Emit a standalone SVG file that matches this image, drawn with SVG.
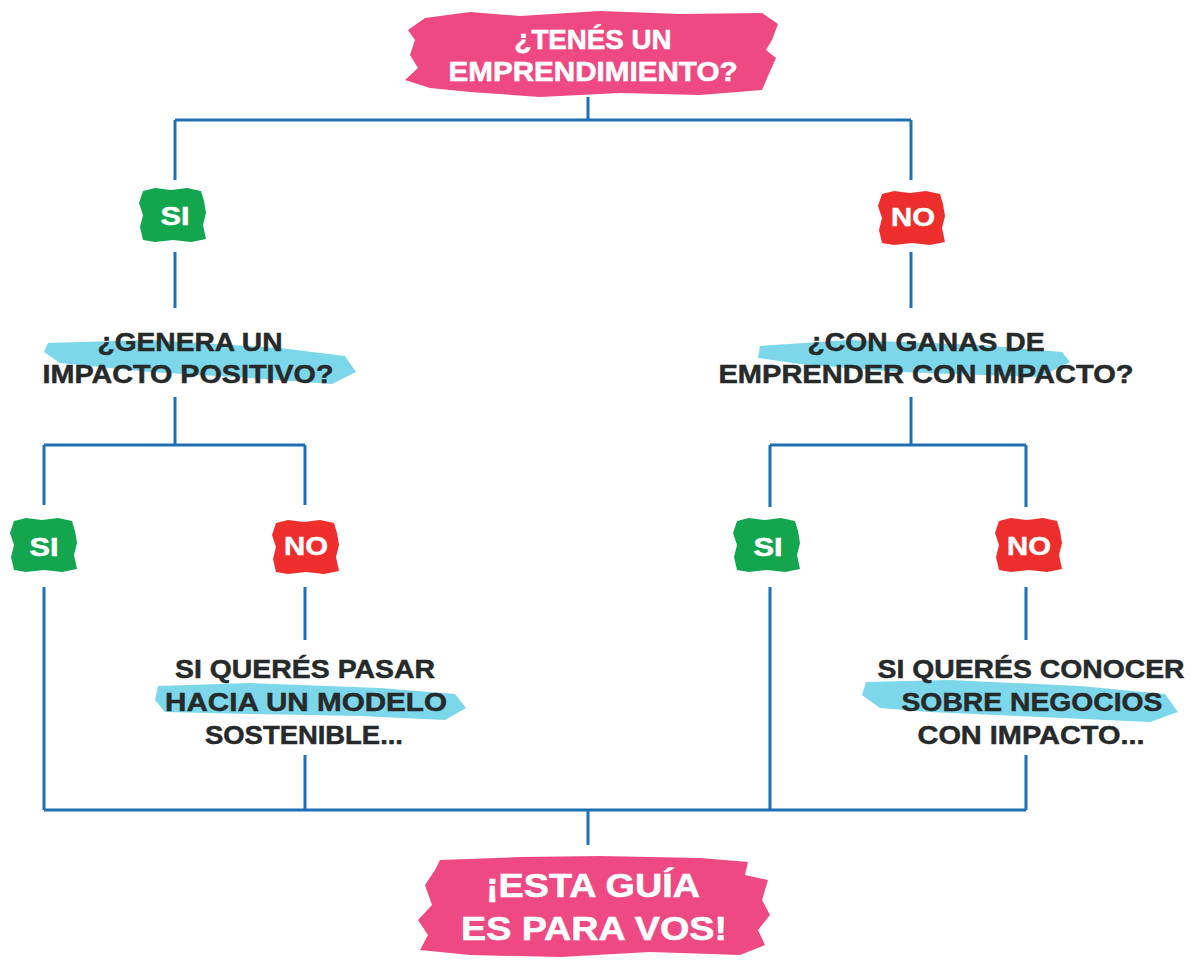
<svg xmlns="http://www.w3.org/2000/svg" xmlns:xlink="http://www.w3.org/1999/xlink" width="1192" height="960" viewBox="0 0 1192 960">
<style>
.ln{stroke:#1f6fb4;stroke-width:3;fill:none}
.pink{fill:#ee4982}
.blue{fill:#7dd7ea}
.g{fill:#13a64f}
.r{fill:#ee2e2d}
.wt{font-family:"Liberation Sans",Arial,sans-serif;font-weight:bold;fill:#fff;text-anchor:middle;stroke:#fff;stroke-width:0.6}
.dt{font-family:"Liberation Sans",Arial,sans-serif;font-weight:bold;fill:#262a2b;text-anchor:middle;font-size:26px;stroke:#262a2b;stroke-width:0.5}
.bt{font-family:"Liberation Sans",Arial,sans-serif;font-weight:bold;fill:#fff;text-anchor:middle;font-size:25px;stroke:#fff;stroke-width:0.5}
</style>
<defs>
<path id="badge" d="M -30 -24 L -18 -27 L -2 -25 L 14 -27 L 28 -24 L 31 -14 L 33 -2 L 30 10 L 33 24 L 18 27 L 0 25 L -18 27 L -30 25 L -33 12 L -30 0 L -34 -12 Z"/>
</defs>
<rect width="1192" height="960" fill="#fff"/>
<g id="connectors">
<path class="ln" d="M588 97V120M175 120H911M175 120V180M911 120V180M175 252V308M911 252V308"/>
<path class="ln" d="M175 397V445M44 445H305M44 445V505M305 445V505M44 587V810M305 587V640M305 755V810"/>
<path class="ln" d="M911 397V445M770 445H1026M770 445V507M1026 445V507M770 587V810M1026 587V640M1026 755V810"/>
<path class="ln" d="M44 810H1026M588 810V845"/>
</g>
<g id="start">
<path class="pink" d="M425 18 L470 12 L520 16 L600 11 L680 14 L762 13 L778 24 L772 40 L766 50 L776 58 L768 76 L762 90 L700 95 L620 93 L540 97 L470 92 L430 88 L405 80 L418 68 L410 55 L415 40 L408 30 Z"/>
<text class="wt" font-size="27"><tspan x="593" y="49" textLength="157" lengthAdjust="spacingAndGlyphs">¿TENÉS UN</tspan><tspan x="593" y="81" textLength="289" lengthAdjust="spacingAndGlyphs">EMPRENDIMIENTO?</tspan></text>
</g>
<g id="si1">
<use xlink:href="#badge" class="g" transform="translate(173 215)"/>
<text class="bt" x="175" y="225" textLength="29" lengthAdjust="spacingAndGlyphs">SI</text>
</g>
<g id="no1">
<use xlink:href="#badge" class="r" transform="translate(912 218)"/>
<text class="bt" x="913" y="226" textLength="44" lengthAdjust="spacingAndGlyphs">NO</text>
</g>
<g id="q1">
<path class="blue" d="M48 343 L150 340 L280 348 L345 356 L356 372 L332 384 L250 378 L150 372 L60 363 L44 352 Z"/>
<text class="dt"><tspan x="190" y="351" textLength="185" lengthAdjust="spacingAndGlyphs">¿GENERA UN</tspan><tspan x="188" y="383" textLength="291" lengthAdjust="spacingAndGlyphs">IMPACTO POSITIVO?</tspan></text>
</g>
<g id="q2">
<path class="blue" d="M760 346 L850 340 L980 345 L1062 352 L1070 362 L1040 377 L900 372 L800 364 L758 358 Z"/>
<text class="dt"><tspan x="926" y="351" textLength="237" lengthAdjust="spacingAndGlyphs">¿CON GANAS DE</tspan><tspan x="926" y="383" textLength="415" lengthAdjust="spacingAndGlyphs">EMPRENDER CON IMPACTO?</tspan></text>
</g>
<g id="si2">
<use xlink:href="#badge" class="g" transform="translate(44 545)"/>
<text class="bt" x="44" y="556" textLength="29" lengthAdjust="spacingAndGlyphs">SI</text>
</g>
<g id="no2">
<use xlink:href="#badge" class="r" transform="translate(306 547)"/>
<text class="bt" x="306" y="555" textLength="44" lengthAdjust="spacingAndGlyphs">NO</text>
</g>
<g id="si3">
<use xlink:href="#badge" class="g" transform="translate(767 545)"/>
<text class="bt" x="768" y="556" textLength="29" lengthAdjust="spacingAndGlyphs">SI</text>
</g>
<g id="no3">
<use xlink:href="#badge" class="r" transform="translate(1029 545)"/>
<text class="bt" x="1029" y="555" textLength="44" lengthAdjust="spacingAndGlyphs">NO</text>
</g>
<g id="t1">
<path class="blue" d="M158 686 L250 683 L380 688 L455 694 L466 708 L445 720 L360 716 L250 714 L165 712 L155 700 Z"/>
<text class="dt"><tspan x="305" y="678" textLength="260" lengthAdjust="spacingAndGlyphs">SI QUERÉS PASAR</tspan><tspan x="306" y="711" textLength="282" lengthAdjust="spacingAndGlyphs">HACIA UN MODELO</tspan><tspan x="304" y="744" textLength="198" lengthAdjust="spacingAndGlyphs">SOSTENIBLE...</tspan></text>
</g>
<g id="t2">
<path class="blue" d="M866 682 L950 680 L1080 686 L1165 694 L1178 712 L1150 722 L1040 717 L930 712 L880 708 L862 695 Z"/>
<text class="dt"><tspan x="1031" y="678" textLength="307" lengthAdjust="spacingAndGlyphs">SI QUERÉS CONOCER</tspan><tspan x="1032" y="711" textLength="261" lengthAdjust="spacingAndGlyphs">SOBRE NEGOCIOS</tspan><tspan x="1031" y="744" textLength="227" lengthAdjust="spacingAndGlyphs">CON IMPACTO...</tspan></text>
</g>
<g id="end">
<path class="pink" d="M440 860 L520 857 L600 856 L700 858 L748 862 L745 875 L768 880 L762 900 L770 915 L758 930 L765 945 L740 955 L650 952 L560 957 L470 955 L420 950 L428 935 L418 920 L432 905 L425 885 L435 870 Z"/>
<text class="wt" font-size="34"><tspan x="593" y="897" textLength="214" lengthAdjust="spacingAndGlyphs">¡ESTA GUÍA</tspan><tspan x="594" y="940" textLength="266" lengthAdjust="spacingAndGlyphs">ES PARA VOS!</tspan></text>
</g>
</svg>
